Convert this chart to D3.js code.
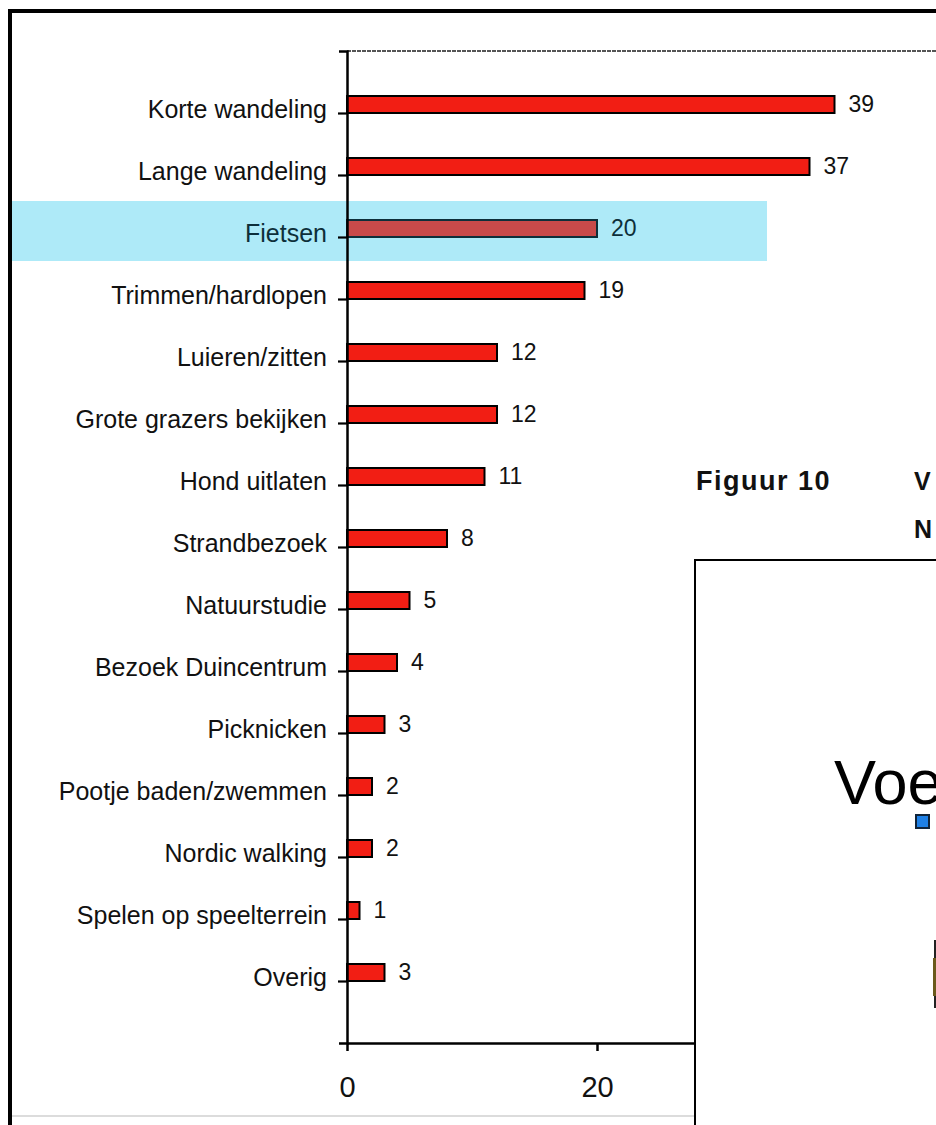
<!DOCTYPE html>
<html>
<head>
<meta charset="utf-8">
<script src="https://cdn.jsdelivr.net/npm/d3@7"></script>
<style>
  html, body { margin: 0; padding: 0; background: #ffffff; }
  svg { display: block; }
</style>
</head>
<body>
<svg id="chart" width="936" height="1125"></svg>
<script>
// ---- data ----
const categories = [
  "Korte wandeling", "Lange wandeling", "Fietsen", "Trimmen/hardlopen",
  "Luieren/zitten", "Grote grazers bekijken", "Hond uitlaten", "Strandbezoek",
  "Natuurstudie", "Bezoek Duincentrum", "Picknicken", "Pootje baden/zwemmen",
  "Nordic walking", "Spelen op speelterrein", "Overig"
];
const values = [39, 37, 20, 19, 12, 12, 11, 8, 5, 4, 3, 2, 2, 1, 3];
const xTicks = [0, 20];
const xDomain = [0, 40];
const highlighted = "Fietsen";
const figureLabel = "Figuur 10";
const clippedTitle = ["V", "N"];
const clippedChartTitle = "Voe";

const data = categories.map((c, i) => ({ cat: c, val: values[i] }));

// ---- layout ----
const svg = d3.select("#chart");
const FONT = "'Liberation Sans', Arial, sans-serif";
const plot = { left: 347, top: 51, bottom: 1043 };

const x = d3.scaleLinear().domain(xDomain).range([plot.left, plot.left + 500]);
const y = d3.scalePoint().domain(categories).range([plot.top, plot.bottom]).padding(1);
const barH = 17;

// outer frame of the scanned page
svg.append("line").attr("x1", 10).attr("x2", 10).attr("y1", 9).attr("y2", 1125)
  .attr("stroke", "#000").attr("stroke-width", 4);
svg.append("line").attr("x1", 8).attr("x2", 936).attr("y1", 11).attr("y2", 11)
  .attr("stroke", "#000").attr("stroke-width", 4);
svg.append("line").attr("x1", 12).attr("x2", 695).attr("y1", 1116).attr("y2", 1116)
  .attr("stroke", "#dcdcdc").attr("stroke-width", 2);

// highlight band behind the highlighted row
svg.append("rect")
  .attr("x", 12).attr("width", 755)
  .attr("y", y(highlighted) - 36).attr("height", 60)
  .attr("fill", "#aeeaf8");

// top border of plot area (dashed gray)
svg.append("line")
  .attr("x1", plot.left).attr("x2", 936)
  .attr("y1", plot.top).attr("y2", plot.top)
  .attr("stroke", "#555").attr("stroke-width", 2)
  .attr("stroke-dasharray", "4,1");

// bars
svg.append("g").selectAll("rect").data(data).join("rect")
  .attr("x", x(0))
  .attr("y", d => y(d.cat) - barH)
  .attr("width", d => x(d.val) - x(0))
  .attr("height", barH)
  .attr("fill", d => d.cat === highlighted ? "#c94a4a" : "#f21e14")
  .attr("stroke", d => d.cat === highlighted ? "#0d2f3a" : "#000")
  .attr("stroke-width", 2);

// value labels
svg.append("g").selectAll("text").data(data).join("text")
  .attr("x", d => x(d.val) + 14)
  .attr("y", d => y(d.cat) - 1)
  .attr("font-family", FONT).attr("font-size", 23)
  .attr("fill", d => d.cat === highlighted ? "#0d2f3a" : "#111")
  .text(d => d.val);

// y axis
const yAxis = svg.append("g")
  .attr("transform", `translate(${plot.left},0)`)
  .call(d3.axisLeft(y).tickSize(9).tickSizeOuter(8).tickPadding(11));
yAxis.select(".domain").attr("stroke", "#000").attr("stroke-width", 2.5);
yAxis.selectAll(".tick line").attr("stroke", "#000").attr("stroke-width", 2.2);
yAxis.selectAll(".tick text")
  .attr("font-family", FONT).attr("font-size", 25)
  .attr("dy", "0.16em")
  .attr("fill", d => d === highlighted ? "#0d2f3a" : "#111");

// x axis
const xAxis = svg.append("g")
  .attr("transform", `translate(0,${plot.bottom})`)
  .call(d3.axisBottom(x).tickValues(xTicks).tickSize(8).tickSizeOuter(0).tickPadding(25));
xAxis.select(".domain").attr("stroke", "#000").attr("stroke-width", 2.5);
xAxis.selectAll(".tick line").attr("stroke", "#000").attr("stroke-width", 2.5);
xAxis.selectAll(".tick text")
  .attr("font-family", FONT).attr("font-size", 29).attr("fill", "#111");

// overlapping next figure (page content clipped by the crop)
svg.append("text")
  .attr("x", 696).attr("y", 490)
  .attr("font-family", FONT).attr("font-weight", "bold").attr("font-size", 27)
  .attr("letter-spacing", 1.5).attr("fill", "#111")
  .text(figureLabel);
svg.selectAll(".clip-title").data(clippedTitle).join("text")
  .attr("class", "clip-title")
  .attr("x", 914).attr("y", (d, i) => 490 + i * 48)
  .attr("font-family", FONT).attr("font-weight", "bold").attr("font-size", 25)
  .attr("fill", "#111")
  .text(d => d);

svg.append("rect")
  .attr("x", 695).attr("y", 560).attr("width", 260).attr("height", 600)
  .attr("fill", "#fff").attr("stroke", "#000").attr("stroke-width", 2);

svg.append("text")
  .attr("x", 834).attr("y", 804)
  .attr("font-family", FONT).attr("font-size", 63).attr("fill", "#000")
  .text(clippedChartTitle);

svg.append("rect")
  .attr("x", 916).attr("y", 815).attr("width", 13).attr("height", 13)
  .attr("fill", "#1e80e6").attr("stroke", "#10243a").attr("stroke-width", 2);

svg.append("line")
  .attr("x1", 935).attr("x2", 935).attr("y1", 940).attr("y2", 1008)
  .attr("stroke", "#222").attr("stroke-width", 2);
svg.append("rect")
  .attr("x", 933).attr("y", 958).attr("width", 3).attr("height", 38)
  .attr("fill", "#6b5a1c");
</script>
</body>
</html>
